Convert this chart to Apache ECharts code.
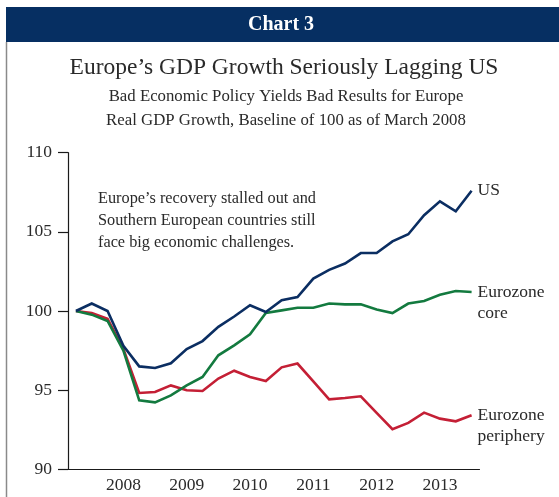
<!DOCTYPE html>
<html>
<head>
<meta charset="utf-8">
<script src="https://cdn.jsdelivr.net/npm/echarts@6/dist/echarts.min.js"></script>
<style>
  html, body { margin: 0; padding: 0; background: #fff; }
  #chart { width: 559px; height: 497px; }
</style>
</head>
<body>
<div id="chart"></div>
<script>
// Quarterly real GDP index, first quarter of 2008 = 100
const quarters = [
  '2008Q1','2008Q2','2008Q3','2008Q4',
  '2009Q1','2009Q2','2009Q3','2009Q4',
  '2010Q1','2010Q2','2010Q3','2010Q4',
  '2011Q1','2011Q2','2011Q3','2011Q4',
  '2012Q1','2012Q2','2012Q3','2012Q4',
  '2013Q1','2013Q2','2013Q3','2013Q4',
  '2014Q1','2014Q2'
];

const usValues = [
  100.0, 100.47, 100.0, 97.8, 96.5, 96.4, 96.7, 97.6,
  98.1, 99.0, 99.65, 100.36, 99.94, 100.68, 100.88, 102.05,
  102.6, 103.0, 103.66, 103.66, 104.4, 104.85, 106.05, 106.93,
  106.3, 107.6
];

const coreValues = [
  100.0, 99.77, 99.37, 97.5, 94.36, 94.23, 94.67, 95.3,
  95.83, 97.2, 97.83, 98.53, 99.87, 100.04, 100.21, 100.21,
  100.47, 100.42, 100.42, 100.09, 99.87, 100.47, 100.63, 101.03,
  101.26, 101.2
];

const peripheryValues = [
  100.0, 99.87, 99.5, 97.6, 94.82, 94.88, 95.3, 94.99,
  94.95, 95.73, 96.23, 95.83, 95.58, 96.44, 96.68, 95.55,
  94.42, 94.5, 94.61, 93.56, 92.53, 92.93, 93.58, 93.2,
  93.03, 93.41
];

const seriesNames = ['US', 'Eurozone\ncore', 'Eurozone\nperiphery'];
const yTicks = { min: 90, max: 110, step: 5 };

const serif = '"Liberation Serif", "DejaVu Serif", serif';
const ink = '#2a2a2a';
const lineH = 21;

const chart = echarts.init(document.getElementById('chart'), null, { renderer: 'canvas' });

function lineSeries(name, values, color, z) {
  const twoLines = name.indexOf('\n') >= 0;
  return {
    name: name,
    type: 'line',
    data: values,
    symbol: 'none',
    z: z,
    lineStyle: { color: color, width: 2.6, join: 'miter' },
    itemStyle: { color: color },
    emphasis: { disabled: true },
    endLabel: {
      show: true,
      formatter: p => p.seriesName,
      fontFamily: serif,
      fontSize: 17.5,
      color: ink,
      lineHeight: lineH,
      distance: 6,
      offset: [0, twoLines ? lineH / 2 : 0]
    }
  };
}

chart.setOption({
  animation: false,
  backgroundColor: '#fff',
  grid: { left: 68, right: 79.5, top: 152.7, bottom: 27.7 },
  xAxis: {
    type: 'category',
    data: quarters,
    boundaryGap: true,
    axisLine: { lineStyle: { color: '#1a1a1a', width: 1.2 } },
    axisTick: { show: false },
    axisLabel: {
      interval: (idx, val) => val.endsWith('Q4'),
      formatter: val => val.slice(0, 4),
      fontFamily: serif,
      fontSize: 17.5,
      color: ink,
      margin: 7
    },
    splitLine: { show: false }
  },
  yAxis: {
    type: 'value',
    min: yTicks.min,
    max: yTicks.max,
    interval: yTicks.step,
    axisLine: { show: true, lineStyle: { color: '#1a1a1a', width: 1.2 } },
    axisTick: { show: true, length: 10, lineStyle: { color: '#1a1a1a', width: 1.2 } },
    axisLabel: { fontFamily: serif, fontSize: 17.5, color: ink, margin: 16 },
    splitLine: { show: false }
  },
  series: [
    lineSeries(seriesNames[2], peripheryValues, '#c41f35', 2),
    lineSeries(seriesNames[1], coreValues, '#137a3f', 3),
    lineSeries(seriesNames[0], usValues, '#0b2e62', 4)
  ],
  graphic: [
    { type: 'rect', left: 6, top: 7, shape: { width: 553, height: 35 }, style: { fill: '#062f62' }, silent: true },
    { type: 'line', shape: { x1: 6.5, y1: 42, x2: 6.5, y2: 497 }, style: { stroke: '#8a8a8a', lineWidth: 1.5 }, silent: true },
    { type: 'text', x: 281, y: 25, style: { text: 'Chart 3', fill: '#fff', font: 'bold 20px ' + serif, textAlign: 'center', textVerticalAlign: 'middle' } },
    { type: 'text', x: 284, y: 68, style: { text: 'Europe\u2019s GDP Growth Seriously Lagging US', fill: ink, font: '23.5px ' + serif, textAlign: 'center', textVerticalAlign: 'middle' } },
    { type: 'text', x: 286, y: 97, style: { text: 'Bad Economic Policy Yields Bad Results for Europe', fill: ink, font: '16.8px ' + serif, textAlign: 'center', textVerticalAlign: 'middle' } },
    { type: 'text', x: 286, y: 121, style: { text: 'Real GDP Growth, Baseline of 100 as of March 2008', fill: ink, font: '16.8px ' + serif, textAlign: 'center', textVerticalAlign: 'middle' } },
    { type: 'text', left: 98, top: 188, style: { text: 'Europe\u2019s recovery stalled out and\nSouthern European countries still\nface big economic challenges.', fill: ink, font: '16.3px ' + serif, lineHeight: 22, textAlign: 'left', textVerticalAlign: 'top' } }
  ]
});
</script>
</body>
</html>
